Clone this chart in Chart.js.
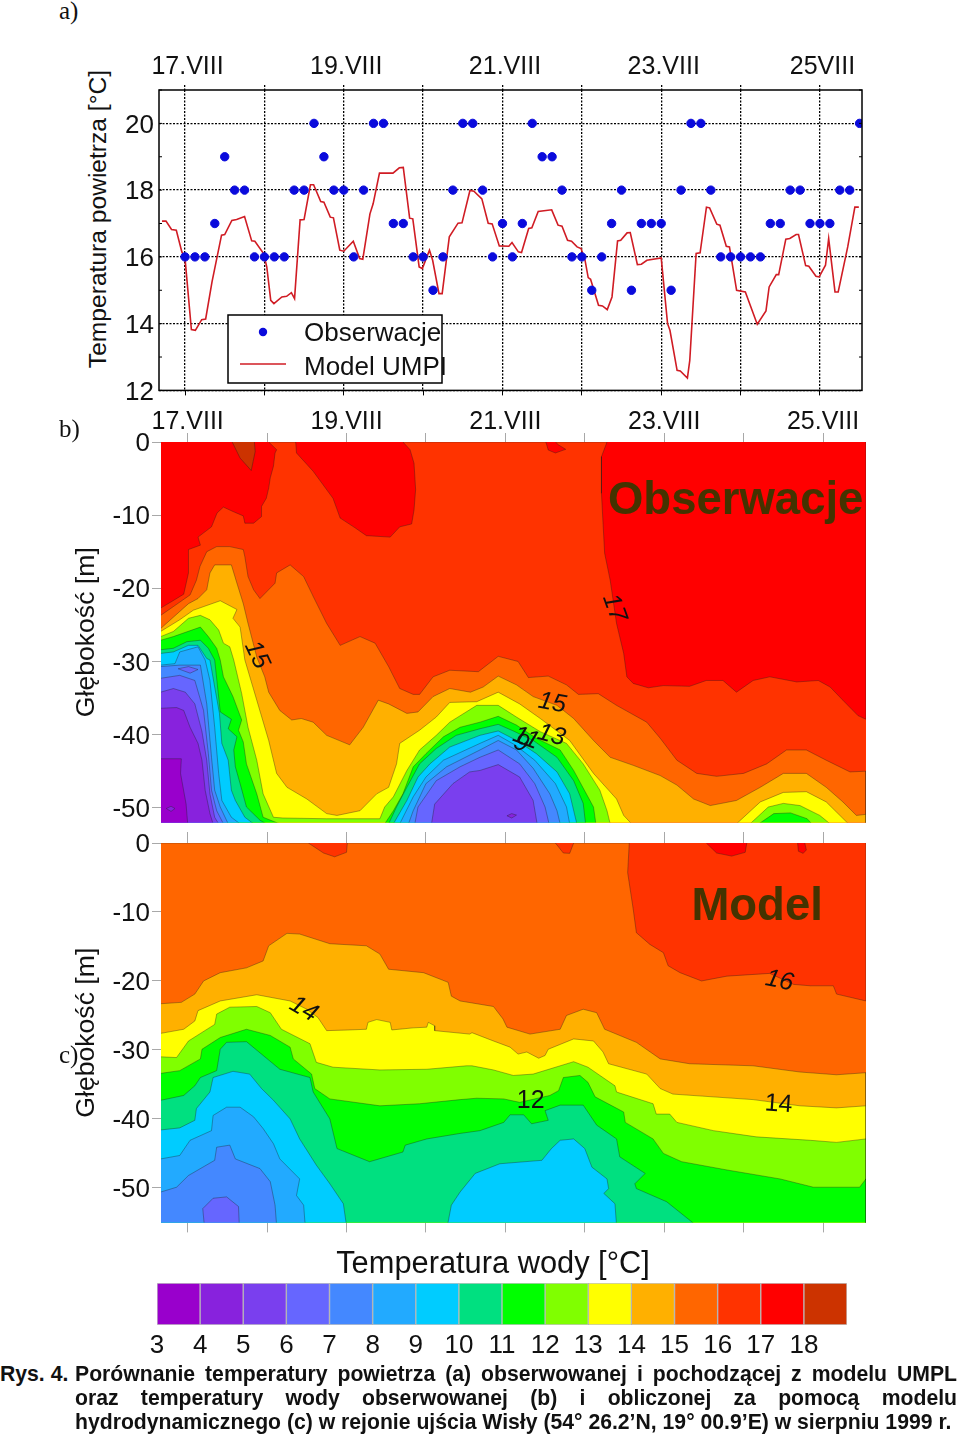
<!DOCTYPE html>
<html>
<head>
<meta charset="utf-8">
<title>Rys. 4</title>
<script src="https://cdn.jsdelivr.net/npm/chart.js@4"></script>
<style>
    html, body { margin: 0; padding: 0; background: #fff; }
    #page { position: relative; width: 960px; height: 1434px; overflow: hidden; font-family: 'Liberation Sans', sans-serif; color: #111; }
    canvas { position: absolute; left: 0; }
    .tag { position: absolute; font: 25px 'Liberation Serif', serif; z-index: 5; }
    .ytitle { position: absolute; left: 98px; top: 219px; font-size: 24.6px; white-space: nowrap; transform: translate(-50%, -50%) rotate(-90deg); }
    .cap { position: absolute; font-weight: bold; font-size: 21.2px; line-height: 24px; white-space: nowrap; }
    .cap.just { white-space: normal; text-align: justify; text-align-last: justify; }
</style>
</head>
<body>
<div id="page">
    <div class="tag" style="left:59px;top:-3px">a)</div>
    <div class="tag" style="left:59px;top:415px">b)</div>
    <div class="tag" style="left:59px;top:1041px">c)</div>
    <div class="ytitle">Temperatura powietrza [°C]</div>
    <canvas id="airChart" width="960" height="366" style="top:45px"></canvas>
    <canvas id="obsChart" width="960" height="435" style="top:405px"></canvas>
    <canvas id="modelChart" width="960" height="415" style="top:825px"></canvas>
    <canvas id="scaleChart" width="934" height="122" style="top:1240px;left:26px"></canvas>
    <div class="cap" style="left:0;top:1362px">Rys. 4.</div>
    <div class="cap just" style="left:75px;top:1362px;width:882px">Porównanie temperatury powietrza (a) obserwowanej i pochodzącej z modelu UMPL</div>
    <div class="cap just" style="left:75px;top:1386px;width:882px">oraz temperatury wody obserwowanej (b) i obliczonej za pomocą modelu</div>
    <div class="cap" style="left:75px;top:1410px">hydrodynamicznego (c) w rejonie ujścia Wisły (54° 26.2’N, 19° 00.9’E) w sierpniu 1999 r.</div>
</div>
<script>
// Tick labels, one per day from 17 to 25 August
var airDayLabels = ['17.VIII', '', '19.VIII', '', '21.VIII', '', '23.VIII', '', '25VIII'];
var waterDayLabels = ['17.VIII', '', '19.VIII', '', '21.VIII', '', '23.VIII', '', '25.VIII'];

// Air temperature observed every 3 hours, starting 17.VIII 00:00
var airObserved = [
    16, 16, 16, 17, 19, 18, 18, 16, 16, 16, 16, 18, 18, 20, 19, 18, 18, 16, 18, 20, 20, 17, 17,
    16, 16, 15, 16, 18, 20, 20, 18, 16, 17, 16, 17, 20, 19, 19, 18, 16, 16, 15, 16, 17, 18, 15,
    17, 17, 17, 15, 18, 20, 20, 18, 16, 16, 16, 16, 16, 17, 17, 18, 18, 17, 17, 17, 18, 18, 20
];
// UMPL model curve: vertices
var modelDays = [
    16.71, 16.76, 16.83, 16.89, 16.96, 17.00, 17.08, 17.13, 17.21, 17.26, 17.34, 17.46, 17.50, 17.59, 17.65, 17.75,
    17.84, 17.88, 17.99, 18.03, 18.08, 18.12, 18.22, 18.28, 18.34, 18.38, 18.45, 18.50, 18.58, 18.62, 18.71, 18.75,
    18.83, 18.87, 18.95, 19.00, 19.12, 19.20, 19.24, 19.33, 19.37, 19.45, 19.62, 19.70, 19.75, 19.83, 19.87, 19.95,
    19.99, 20.08, 20.12, 20.20, 20.24, 20.33, 20.44, 20.49, 20.59, 20.64, 20.74, 20.82, 20.87, 20.96, 21.08, 21.12,
    21.20, 21.24, 21.33, 21.37, 21.45, 21.62, 21.70, 21.75, 21.82, 21.87, 21.94, 21.99, 22.04, 22.08, 22.11, 22.21,
    22.26, 22.32, 22.38, 22.45, 22.49, 22.57, 22.61, 22.70, 22.75, 22.82, 23.00, 23.08, 23.11, 23.20, 23.24, 23.33,
    23.36, 23.44, 23.49, 23.57, 23.61, 23.70, 23.74, 23.82, 23.86, 23.95, 24.06, 24.21, 24.32, 24.36, 24.45, 24.48,
    24.57, 24.62, 24.70, 24.73, 24.82, 24.86, 24.95, 24.99, 25.07, 25.11, 25.19, 25.23, 25.35, 25.44, 25.49
];
var modelTemps = [
    17.07, 17.07, 16.82, 16.80, 16.15, 15.95, 13.82, 13.80, 14.12, 14.14, 15.25, 16.65, 16.67, 17.09, 17.12, 17.21,
    16.48, 16.47, 16.10, 15.70, 14.70, 14.60, 14.80, 14.82, 14.93, 14.75, 17.11, 17.12, 18.16, 18.16, 17.66, 17.64,
    17.19, 17.17, 16.20, 16.17, 16.47, 15.95, 15.93, 17.29, 17.59, 18.51, 18.51, 18.67, 18.68, 17.16, 17.14, 15.70,
    15.65, 16.20, 15.90, 14.90, 14.90, 16.60, 17.01, 17.02, 17.99, 17.97, 17.74, 17.01, 16.99, 16.33, 16.32, 16.43,
    16.15, 16.13, 16.85, 16.87, 17.36, 17.41, 16.95, 16.92, 16.50, 16.47, 16.30, 16.25, 15.90, 15.38, 15.33, 14.55,
    14.53, 14.42, 14.80, 16.48, 16.50, 16.72, 16.73, 15.77, 15.78, 15.90, 15.97, 14.00, 13.80, 12.60, 12.58, 12.37,
    12.90, 16.10, 16.12, 17.49, 17.47, 16.98, 16.95, 16.32, 16.30, 15.00, 14.95, 13.98, 14.38, 15.10, 15.47, 15.47,
    16.53, 16.55, 16.67, 16.67, 15.74, 15.72, 15.42, 15.40, 15.75, 16.55, 14.95, 14.95, 16.30, 17.49, 17.49
];

// Colour scale: one colour per 1 degree band, band 3 is 3-4 C
var scaleLabels = [3, 4, 5, 6, 7, 8, 9, 10, 11, 12, 13, 14, 15, 16, 17, 18];
var bandColours = [
    '#9900CC', '#8822DD', '#7A3FEE', '#6666FF', '#4488FF', '#22AAFF', '#00CCFF', '#00E080',
    '#00FF00', '#80FF00', '#FFFF00', '#FFB000', '#FF6600', '#FF3300', '#FF0000', '#CC3300'
];

// Observed water temperature (panel b): isotherms as [day, depth in m]
var obsWarmLeft = [[16.66,22.7],[16.80,21.8],[16.95,20.8],[17.01,17.9],[17.01,14.7],[17.16,14.1],[17.13,13.0],[17.30,11.6],[17.37,9.7],[17.45,8.9],[17.57,9.5],[17.70,10.1],[17.72,11.1],[17.83,11.1],[17.93,10.2],[17.93,8.8],[17.99,7.7],[18.02,6.3],[18.04,4.9],[18.08,3.3],[18.10,1.5],[18.12,1.05],[18.02,0]];
var obsWarmMiddle = [[18.36,0],[18.37,1.5],[18.58,4.0],[18.83,7.7],[18.92,10.4],[19.09,11.6],[19.25,12.8],[19.55,13.0],[19.67,11.6],[19.82,11.2],[19.85,9.3],[19.87,6.5],[19.85,2.9],[19.80,1.05],[19.71,0]];
var obsWarmRight = [[22.28,0],[22.21,2.0],[22.21,7.0],[22.23,11.1],[22.25,15.2],[22.32,18.9],[22.40,24.8],[22.49,28.9],[22.53,32.1],[22.61,33.0],[22.80,33.6],[22.99,33.3],[23.32,33.4],[23.53,32.6],[23.74,32.6],[23.91,34.2],[24.12,32.6],[24.33,32.1],[24.67,32.8],[24.94,32.6],[25.09,33.5],[25.25,35.3],[25.44,37.4],[25.54,37.9]];
var obsWarmPatch = [[21.51,0],[21.54,1.1],[21.63,1.5],[21.76,1.0],[21.67,0.4],[21.63,0]];
var obsHotPatch = [[17.56,0],[17.66,2.2],[17.80,3.9],[17.85,1.3],[17.84,0]];
var obsIso16 = [[16.66,23.7],[16.82,22.5],[17.03,20.9],[17.11,18.9],[17.155,17.0],[17.24,15.0],[17.365,14.3],[17.53,14.3],[17.70,14.7],[17.72,15.7],[17.76,18.4],[17.83,20.2],[17.91,21.4],[18.10,19.3],[18.12,17.9],[18.29,16.8],[18.46,18.4],[18.58,21.1],[18.75,24.8],[18.92,27.8],[19.17,26.6],[19.36,27.5],[19.53,30.7],[19.67,33.7],[19.84,34.5],[19.92,34.5],[20.09,32.1],[20.30,31.2],[20.66,31.4],[20.91,29.3],[21.16,30.0],[21.29,32.2],[21.54,32.0],[21.77,33.2],[21.92,34.5],[22.17,34.4],[22.40,36.0],[22.78,38.3],[22.95,40.5],[23.16,43.5],[23.41,45.3],[23.66,45.7],[24.00,45.3],[24.29,44.0],[24.54,42.1],[24.79,42.1],[25.04,43.5],[25.34,45.1],[25.54,45.0]];
var obsIso15 = [[16.66,25.5],[17.01,22.1],[17.13,21.4],[17.24,20.2],[17.28,17.9],[17.34,16.8],[17.55,16.8],[17.62,19.3],[17.70,22.1],[17.76,24.8],[17.87,29.4],[17.97,32.1],[18.02,34.2],[18.16,36.7],[18.31,38.0],[18.43,37.8],[18.58,38.3],[18.75,40.1],[19.04,41.4],[19.21,39.0],[19.40,35.3],[19.53,35.8],[19.76,37.1],[19.90,36.9],[20.09,34.8],[20.30,33.7],[20.56,34.2],[20.72,33.5],[20.91,32.0],[21.14,33.2],[21.35,34.8],[21.65,36.0],[21.86,37.8],[22.11,40.8],[22.32,43.1],[22.61,44.2],[22.95,45.6],[23.16,46.9],[23.37,48.8],[23.58,49.7],[23.91,49.0],[24.21,47.2],[24.50,45.3],[24.79,45.3],[25.04,47.2],[25.25,49.2],[25.42,51.05],[25.54,50.9]];
var obsIso14 = [[16.66,25.9],[16.90,24.3],[17.07,23.0],[17.41,21.7],[17.62,22.9],[17.57,24.1],[17.66,25.3],[17.72,29.8],[17.87,35.3],[18.02,40.8],[18.12,45.3],[18.25,47.2],[18.50,48.8],[18.75,50.8],[18.88,51.05],[19.17,50.4],[19.38,48.1],[19.53,47.2],[19.63,44.0],[19.67,41.2],[19.92,39.4],[20.13,37.6],[20.30,35.6],[20.64,35.5],[20.91,34.2],[21.18,35.8],[21.44,37.8],[21.81,40.8],[22.11,45.3],[22.40,48.8],[22.49,51.05],[22.59,52.2]];
var obsIso14Small = [[23.91,52.2],[24.21,49.2],[24.50,47.9],[24.79,47.8],[25.04,49.2],[25.32,52.2]];
var obsIso13 = [[16.66,26.6],[16.82,25.9],[17.01,24.1],[17.16,23.7],[17.28,24.3],[17.39,25.7],[17.45,27.5],[17.53,28.0],[17.58,29.8],[17.68,34.4],[17.76,39.0],[17.87,43.5],[17.95,48.1],[18.08,51.3],[18.20,51.4],[18.75,51.5],[19.42,51.5],[19.48,49.9],[19.59,48.5],[19.76,44.9],[19.92,42.1],[20.13,40.1],[20.30,38.3],[20.64,36.0],[20.91,36.0],[21.14,37.6],[21.44,39.6],[21.77,41.2],[21.98,44.0],[22.19,47.6],[22.28,50.4],[22.32,52.2]];
var obsIso13Small = [[24.08,52.2],[24.31,49.9],[24.50,49.4],[24.71,49.7],[24.96,51.05],[25.09,52.2]];
var obsIso12 = [[16.66,27.1],[16.82,26.6],[17.16,25.3],[17.26,26.6],[17.365,28.2],[17.41,29.8],[17.45,32.1],[17.57,34.8],[17.68,38.0],[17.64,39.4],[17.70,41.0],[17.74,44.0],[17.87,48.1],[17.95,51.3],[18.16,52.2]];
var obsIso12Dome = [[19.48,52.2],[19.59,50.4],[19.71,48.1],[19.84,44.4],[20.00,42.6],[20.22,40.3],[20.43,39.0],[20.68,38.3],[20.91,37.5],[21.14,38.7],[21.39,40.5],[21.69,42.1],[21.86,44.9],[22.02,48.1],[22.11,49.9],[22.14,52.2]];
var obsIso12Small = [[24.19,52.2],[24.38,50.8],[24.59,50.7],[24.80,51.5],[24.86,52.2]];
var obsIso11 = [[16.66,28.4],[16.82,28.2],[16.99,27.3],[17.16,27.1],[17.26,28.2],[17.34,29.8],[17.41,36.9],[17.55,37.9],[17.51,39.2],[17.62,40.3],[17.58,42.1],[17.60,44.4],[17.66,46.7],[17.74,49.9],[17.91,51.7],[17.99,52.2]];
var obsIso11Dome = [[19.53,52.2],[19.63,49.9],[19.76,47.2],[19.92,44.0],[20.13,41.9],[20.38,40.1],[20.68,39.2],[20.91,38.6],[21.10,39.5],[21.35,40.8],[21.65,43.1],[21.86,46.3],[21.98,49.4],[22.01,52.2]];
var obsIso10 = [[16.66,28.9],[16.82,28.7],[17.01,27.8],[17.13,27.8],[17.24,29.6],[17.28,29.8],[17.34,33.5],[17.40,37.1],[17.43,41.2],[17.51,43.5],[17.55,47.6],[17.60,49.0],[17.72,51.3],[17.83,52.2]];
var obsIso10Dome = [[19.59,52.2],[19.76,49.0],[19.90,45.8],[20.05,44.0],[20.30,41.7],[20.68,40.1],[20.91,39.5],[21.14,40.8],[21.39,42.6],[21.65,45.1],[21.81,48.1],[21.90,52.2]];
var obsIso9 = [[16.66,30.5],[16.84,30.3],[16.90,28.7],[17.13,28.0],[17.22,29.8],[17.28,32.6],[17.34,39.0],[17.39,45.3],[17.43,49.0],[17.55,51.3],[17.66,52.2]];
var obsIso9Dome = [[19.67,52.2],[19.84,48.5],[20.00,45.8],[20.22,43.5],[20.68,41.2],[20.91,40.1],[21.12,41.4],[21.37,43.5],[21.63,46.7],[21.77,49.9],[21.81,52.2]];
var obsIso8 = [[16.66,30.7],[16.90,30.5],[17.16,30.5],[17.24,35.8],[17.30,43.1],[17.34,47.6],[17.41,49.9],[17.51,52.2]];
var obsIso8Dome = [[19.78,52.2],[19.84,50.4],[20.00,46.7],[20.26,44.4],[20.68,42.1],[20.91,40.8],[21.14,42.1],[21.35,44.6],[21.56,48.1],[21.65,50.4],[21.69,52.2]];
var obsIso7 = [[16.66,32.3],[16.90,31.9],[17.09,32.6],[17.20,36.7],[17.26,42.6],[17.30,47.6],[17.365,50.4],[17.45,52.2]];
var obsIso7Dome = [[19.86,52.2],[19.90,49.9],[20.13,46.3],[20.43,44.4],[20.68,43.1],[20.91,42.1],[21.18,44.0],[21.37,46.7],[21.50,49.9],[21.55,52.2]];
var obsIso7Isle = [[16.88,31.0],[17.01,30.7],[17.13,31.1],[17.03,31.6],[16.88,31.0]];
var obsIso6 = [[16.66,34.2],[16.82,33.7],[16.97,34.2],[17.09,35.8],[17.18,39.6],[17.24,43.5],[17.28,48.1],[17.34,51.3],[17.39,52.2]];
var obsIso6Dome = [[20.07,52.2],[20.11,49.5],[20.34,46.7],[20.55,45.1],[20.68,44.9],[20.91,44.1],[21.18,45.8],[21.35,49.0],[21.40,52.2]];
var obsIso5 = [[16.66,36.4],[16.86,36.3],[16.95,36.7],[17.03,39.0],[17.13,41.2],[17.18,43.5],[17.22,47.6],[17.28,50.8],[17.32,52.2]];
var obsIso4 = [[16.66,43.3],[16.92,43.3],[16.91,45.3],[16.98,49.5],[17.00,52.2]];
var obsIsle1 = [[16.73,50.1],[16.79,49.8],[16.84,50.1],[16.79,50.5],[16.73,50.1]];
var obsIsle2 = [[21.02,51.1],[21.08,50.8],[21.14,51.0],[21.08,51.4],[21.02,51.1]];

// Modelled water temperature (panel c)
var modWarmPatch1 = [[18.52,0],[18.71,1.45],[18.85,2.0],[19.00,1.35],[19.01,0]];
var modWarmPatch2 = [[21.63,0],[21.73,1.45],[21.81,1.5],[21.86,0]];
var modIso16 = [[22.56,0],[22.54,4.3],[22.61,9.6],[22.65,13.0],[22.82,14.7],[22.99,15.9],[23.05,17.8],[23.20,18.8],[23.47,20.0],[23.79,19.3],[24.33,18.9],[24.63,20.5],[24.84,20.7],[25.13,20.7],[25.17,21.9],[25.54,22.9]];
var modIso17a = [[23.53,0],[23.66,1.45],[23.85,1.9],[24.02,1.35],[24.04,0]];
var modIso17b = [[24.68,0],[24.69,1.2],[24.75,1.5],[24.79,1.0],[24.77,0]];
var modIso15 = [[16.66,23.3],[16.92,23.1],[17.09,21.9],[17.20,20.0],[17.41,18.8],[17.74,18.1],[17.95,17.1],[18.02,14.9],[18.25,13.1],[18.41,13.2],[18.79,14.6],[19.25,14.9],[19.42,16.1],[19.53,18.3],[19.97,18.8],[20.28,20.2],[20.32,22.2],[20.43,22.9],[20.85,23.7],[20.97,25.5],[21.02,26.7],[21.31,27.7],[21.69,27.0],[21.77,25.0],[21.98,24.1],[22.15,24.6],[22.25,27.0],[22.65,28.9],[22.95,31.3],[23.32,32.0],[24.12,32.3],[24.71,33.2],[25.17,33.6],[25.54,33.3]];
var modIso14 = [[16.66,27.6],[16.95,27.0],[17.09,25.8],[17.13,24.3],[17.41,22.9],[17.87,22.0],[18.29,22.9],[18.50,24.1],[18.64,25.3],[18.75,27.2],[19.04,27.1],[19.25,27.0],[19.27,26.0],[19.38,25.6],[19.55,26.0],[19.57,27.1],[19.84,26.8],[20.01,26.7],[20.03,26.0],[20.11,26.5],[20.11,27.2],[20.55,27.7],[20.58,27.5],[20.85,28.7],[21.06,29.6],[21.16,30.6],[21.27,30.3],[21.42,31.2],[21.50,30.8],[21.54,29.9],[21.86,28.4],[22.11,28.7],[22.23,30.3],[22.30,32.0],[22.78,33.5],[22.95,35.6],[23.11,36.4],[24.12,37.2],[24.71,38.1],[25.17,38.4],[25.54,38.1]];
var modIso13 = [[16.66,31.0],[16.86,31.1],[17.01,28.7],[17.34,26.3],[17.365,24.8],[17.53,23.8],[17.87,23.7],[18.04,24.6],[18.18,27.0],[18.54,29.1],[18.62,31.8],[18.83,32.5],[19.42,32.9],[20.01,32.8],[20.51,32.3],[20.58,32.3],[20.85,32.9],[21.10,33.7],[21.35,33.5],[21.86,31.7],[22.04,32.5],[22.38,35.2],[22.40,36.1],[22.86,37.8],[22.90,39.3],[23.07,39.3],[23.16,40.5],[23.62,41.7],[24.16,42.6],[24.84,43.1],[25.17,43.4],[25.54,42.9]];
var modIso12 = [[16.66,33.4],[16.90,33.0],[17.16,31.3],[17.18,29.9],[17.41,28.2],[17.74,27.0],[18.04,27.9],[18.29,29.6],[18.33,31.3],[18.56,33.5],[18.60,35.6],[18.79,37.1],[19.42,38.1],[19.92,37.8],[20.43,37.2],[20.64,37.0],[20.98,37.1],[21.18,37.6],[21.56,36.6],[21.67,35.9],[21.73,34.0],[21.94,33.7],[22.04,34.7],[22.13,36.8],[22.49,39.0],[22.51,40.5],[22.86,42.9],[22.99,45.0],[23.22,46.2],[23.79,47.4],[24.46,48.7],[24.88,49.9],[25.46,49.9],[25.54,48.7]];
var modIso11 = [[16.66,37.3],[16.95,36.6],[17.09,35.2],[17.16,34.0],[17.365,33.0],[17.41,29.9],[17.49,28.9],[17.74,28.8],[17.95,30.8],[18.16,32.8],[18.54,34.0],[18.58,36.1],[18.79,40.0],[18.88,44.3],[19.29,46.2],[19.71,44.8],[19.74,43.8],[20.01,42.9],[20.43,42.1],[20.68,41.7],[20.98,40.5],[21.06,39.4],[21.23,39.4],[21.33,40.7],[21.54,40.2],[21.50,38.8],[21.69,38.0],[21.98,38.0],[22.15,40.9],[22.40,42.9],[22.44,45.5],[22.76,47.9],[22.63,49.4],[22.65,50.1],[23.03,52.0],[23.41,55.5]];
var modIso10 = [[16.66,41.6],[16.90,41.3],[17.09,40.2],[17.11,38.5],[17.28,36.1],[17.32,34.0],[17.57,33.1],[17.78,33.5],[17.93,35.6],[18.08,37.3],[18.29,40.0],[18.41,42.9],[18.62,46.7],[18.79,49.4],[18.96,52.3],[19.00,55.5]];
var modIso10Dome = [[20.27,55.5],[20.32,52.5],[20.43,50.6],[20.62,47.9],[20.93,46.5],[21.46,46.0],[21.58,44.3],[21.69,43.1],[21.86,42.9],[22.00,44.3],[22.09,47.0],[22.28,48.7],[22.30,50.1],[22.24,50.8],[22.38,52.3],[22.40,55.5]];
var modIso9 = [[16.66,45.8],[16.90,45.3],[17.03,43.1],[17.30,41.7],[17.32,39.5],[17.49,38.3],[17.66,38.3],[17.83,39.7],[17.95,41.4],[18.08,43.6],[18.16,45.8],[18.41,48.7],[18.37,51.1],[18.46,52.5],[18.48,55.5]];
var modIso8 = [[16.66,50.6],[16.86,49.9],[17.01,48.2],[17.34,46.0],[17.365,44.1],[17.53,43.8],[17.60,45.8],[17.91,47.2],[18.04,49.1],[18.10,52.5],[18.12,55.5]];
var modIso7 = [[17.21,55.5],[17.19,53.0],[17.32,51.5],[17.49,51.3],[17.64,52.7],[17.65,55.5]];

// Contour labels: text, day, depth, angle in degrees, upright flag
var obsContourLabels = [
    ['15', 17.87, 29.1, 65], ['17', 22.37, 22.7, 70], ['15', 21.59, 35.7, 10],
    ['13', 21.58, 40.1, 15], ['11', 21.26, 40.5, 20], ['9', 21.20, 41.2, 20]
];
var modelContourLabels = [
    ['14', 18.46, 24.1, 30], ['16', 24.45, 20.0, 12], ['12', 21.32, 37.4, 0, true], ['14', 24.44, 37.9, 4, true]
];

Chart.defaults.font.family = "'Liberation Sans', sans-serif";
Chart.defaults.font.size = 26;
Chart.defaults.color = '#111';
Chart.defaults.animation = false;
Chart.defaults.responsive = false;
Chart.defaults.plugins.legend.display = false;
Chart.defaults.plugins.tooltip.enabled = false;

function fixedHeight(px) {
    return function (scale) { scale.height = px; };
}
function fixedWidth(px) {
    return function (scale) { scale.width = px; };
}
// Day ticks with labels from a list; only whole days
function dayTicks(labels, padding, labelOffset) {
    return {
        stepSize: 1,
        includeBounds: false,
        autoSkip: false,
        maxRotation: 0,
        font: { size: 25 },
        padding: padding,
        labelOffset: labelOffset,
        callback: function (value) {
            return labels[value - 17] || '';
        }
    };
}

// Close a polyline down to below the plot, or up above it
function closed(line, side, xMin, xMax) {
    var limit = side === 'below' ? -70 : 10;
    var first = line[0];
    var last = line[line.length - 1];
    var startX = first[0] <= xMin ? xMin - 1 : first[0];
    var endX = last[0] >= xMax ? xMax + 1 : last[0];
    var points = line.map(function (p) { return { x: p[0], y: -p[1] }; });
    points.push({ x: endX, y: limit });
    points.push({ x: startX, y: limit });
    return points;
}

// One coloured area per entry, painted in list order
function contourDatasets(layers, xMin, xMax) {
    return layers.map(function (layer, i) {
        return {
            data: layer[2] ? closed(layer[1], layer[2], xMin, xMax)
                           : layer[1].map(function (p) { return { x: p[0], y: -p[1] }; }),
            order: layers.length - i,
            showLine: true,
            fill: 'shape',
            tension: 0,
            pointRadius: 0,
            backgroundColor: bandColours[layer[0] - 3],
            borderColor: 'rgba(30,30,30,0.5)',
            borderWidth: 0.7
        };
    });
}

// Rotated contour labels and the panel name, placed through the scales
function panelText(labels, name, nameDay, nameDepth) {
    return {
        id: 'panelText',
        afterDatasetsDraw: function (chart) {
            var ctx = chart.ctx;
            var x = chart.scales.x;
            var y = chart.scales.y;
            ctx.save();
            ctx.textAlign = 'center';
            ctx.textBaseline = 'middle';
            ctx.fillStyle = '#111';
            labels.forEach(function (l) {
                ctx.save();
                ctx.font = (l[4] ? '' : 'italic ') + "25px 'Liberation Sans'";
                ctx.translate(x.getPixelForValue(l[1]), y.getPixelForValue(-l[2]));
                ctx.rotate(l[3] * Math.PI / 180);
                ctx.fillText(l[0], 0, 0);
                ctx.restore();
            });
            ctx.font = "bold 45.5px 'Liberation Sans'";
            ctx.fillStyle = '#443300';
            ctx.fillText(name, x.getPixelForValue(nameDay), y.getPixelForValue(-nameDepth));
            ctx.restore();
        }
    };
}

function waterChart(id, layers, yMin, top, bottomTickHeight, dayLabels, contourLabels, name, nameDay, nameDepth, padBottom) {
    var xMin = 16.664, xMax = 25.541;
    var scales = {
        x: {
            type: 'linear', position: 'top', min: xMin, max: xMax,
            afterFit: fixedHeight(top),
            ticks: dayLabels ? dayTicks(dayLabels, -4, 0) : { stepSize: 1, includeBounds: false, display: false },
            grid: { drawOnChartArea: false, color: '#a8a8a8', tickLength: dayLabels ? 9 : 11 },
            border: { display: false }
        },
        y: {
            min: yMin, max: 0,
            afterFit: fixedWidth(90),
            ticks: { stepSize: 10, includeBounds: false, padding: 2, labelOffset: 2 },
            grid: { drawOnChartArea: false, color: '#a8a8a8', tickLength: 9 },
            border: { display: false },
            title: { display: true, text: 'Głębokość [m]', font: { size: 26.6 }, padding: 0 }
        }
    };
    if (bottomTickHeight) {
        scales.xb = {
            type: 'linear', position: 'bottom', min: xMin, max: xMax,
            afterFit: fixedHeight(bottomTickHeight),
            ticks: { stepSize: 1, includeBounds: false, display: false },
            grid: { drawOnChartArea: false, color: '#a8a8a8', tickLength: 10 },
            border: { display: false }
        };
    }
    return new Chart(document.getElementById(id), {
        type: 'scatter',
        data: { datasets: contourDatasets(layers, xMin, xMax) },
        options: {
            layout: { padding: { left: 71, right: 94, top: 0, bottom: padBottom } },
            scales: scales
        },
        plugins: [panelText(contourLabels, name, nameDay, nameDepth)]
    });
}

// Panel a
new Chart(document.getElementById('airChart'), {
    type: 'scatter',
    data: {
        datasets: [
            {
                label: 'Obserwacje',
                data: airObserved.map(function (t, i) { return { x: 17 + i / 8, y: t }; }),
                backgroundColor: '#0A0ADC',
                borderColor: '#0A0ADC',
                pointRadius: 4.2
            },
            {
                label: 'Model UMPI',
                data: modelDays.map(function (d, i) { return { x: d, y: modelTemps[i] }; }),
                showLine: true,
                tension: 0,
                pointRadius: 0,
                borderColor: '#D01C24',
                borderWidth: 1.6
            }
        ]
    },
    options: {
        layout: { padding: { left: 119, right: 98, top: 0, bottom: 0 } },
        scales: {
            x: {
                type: 'linear', position: 'top', min: 16.672, max: 25.53,
                afterFit: fixedHeight(45),
                ticks: dayTicks(airDayLabels, 3, 2.5),
                grid: { color: '#000', lineWidth: 1.3, tickLength: 5, tickBorderDash: [2, 1.5] },
                border: { display: false, dash: [2, 1.5] }
            },
            xb: {
                type: 'linear', position: 'bottom', min: 16.672, max: 25.53,
                afterFit: fixedHeight(15),
                ticks: { stepSize: 1, includeBounds: false, display: false },
                grid: { drawOnChartArea: false, color: '#000', tickLength: 5 },
                border: { display: false }
            },
            y: {
                min: 12, max: 21,
                afterFit: fixedWidth(40),
                ticks: {
                    stepSize: 1,
                    autoSkip: false,
                    padding: 5,
                    labelOffset: 2,
                    callback: function (v) { return v % 2 === 0 ? v : ''; }
                },
                grid: {
                    drawTicks: false,
                    color: function (c) { return c.tick && c.tick.value % 2 === 0 ? '#000' : 'rgba(0,0,0,0)'; },
                    lineWidth: 1.3
                },
                border: { display: false, dash: [2, 1.5] }
            }
        }
    },
    plugins: [{
        // Frame, small inside ticks and the legend box on top of the marks
        id: 'airFrame',
        afterDatasetsDraw: function (chart) {
            var ctx = chart.ctx;
            var a = chart.chartArea;
            var y = chart.scales.y;
            ctx.save();
            ctx.strokeStyle = '#000';
            ctx.lineWidth = 1.5;
            ctx.strokeRect(a.left, a.top, a.right - a.left, a.bottom - a.top);
            ctx.lineWidth = 1;
            y.ticks.forEach(function (t) {
                var py = y.getPixelForValue(t.value);
                ctx.beginPath();
                ctx.moveTo(a.left, py); ctx.lineTo(a.left + 3, py);
                ctx.moveTo(a.right, py); ctx.lineTo(a.right - 3, py);
                ctx.stroke();
            });
            var sets = chart.data.datasets;
            var left = a.left + 69, top = a.top + 225;
            ctx.fillStyle = '#fff';
            ctx.fillRect(left, top, 214, 68);
            ctx.lineWidth = 1.5;
            ctx.strokeRect(left, top, 214, 68);
            ctx.fillStyle = sets[0].backgroundColor;
            ctx.beginPath();
            ctx.arc(left + 35, top + 17, 4.2, 0, Math.PI * 2);
            ctx.fill();
            ctx.strokeStyle = sets[1].borderColor;
            ctx.lineWidth = 1.6;
            ctx.beginPath();
            ctx.moveTo(left + 12, top + 49);
            ctx.lineTo(left + 58, top + 49);
            ctx.stroke();
            ctx.fillStyle = '#111';
            ctx.font = "26px 'Liberation Sans'";
            ctx.textBaseline = 'middle';
            ctx.fillText(sets[0].label, left + 76, top + 19);
            ctx.fillText(sets[1].label, left + 76, top + 53);
            ctx.restore();
        }
    }]
});

// Panel b
waterChart('obsChart', [
    [16, [[16.6, 0], [25.6, 0]], 'below'],
    [17, obsWarmLeft, 'above'], [17, obsWarmMiddle, 'above'], [17, obsWarmRight, 'above'], [17, obsWarmPatch, 'above'],
    [18, obsHotPatch, 'above'],
    [15, obsIso16, 'below'], [14, obsIso15, 'below'],
    [13, obsIso14, 'below'], [13, obsIso14Small, 'below'],
    [12, obsIso13, 'below'], [12, obsIso13Small, 'below'],
    [11, obsIso12, 'below'], [11, obsIso12Dome, 'below'], [11, obsIso12Small, 'below'],
    [10, obsIso11, 'below'], [10, obsIso11Dome, 'below'],
    [9, obsIso10, 'below'], [9, obsIso10Dome, 'below'],
    [8, obsIso9, 'below'], [8, obsIso9Dome, 'below'],
    [7, obsIso8, 'below'], [7, obsIso8Dome, 'below'],
    [6, obsIso7, 'below'], [6, obsIso7Dome, 'below'], [6, obsIso7Isle, null],
    [5, obsIso6, 'below'], [5, obsIso6Dome, 'below'],
    [4, obsIso5, 'below'], [3, obsIso4, 'below'],
    [4, obsIsle1, null], [4, obsIsle2, null]
], -52, 37, 0, waterDayLabels, obsContourLabels, 'Obserwacje', 23.90, 8.1, 8);

// Panel c
waterChart('modelChart', [
    [15, [[16.6, 0], [25.6, 0]], 'below'],
    [16, modWarmPatch1, 'above'], [16, modWarmPatch2, 'above'], [16, modIso16, 'above'],
    [17, modIso17a, 'above'], [17, modIso17b, 'above'],
    [14, modIso15, 'below'], [13, modIso14, 'below'], [12, modIso13, 'below'],
    [11, modIso12, 'below'], [10, modIso11, 'below'],
    [9, modIso10, 'below'], [9, modIso10Dome, 'below'],
    [8, modIso9, 'below'], [7, modIso8, 'below'], [6, modIso7, 'below']
], -55, 18, 17, null, modelContourLabels, 'Model', 24.17, 9.3, 0);

// Colour scale: side axes only reserve the room, so the title stays centred on the canvas
new Chart(document.getElementById('scaleChart'), {
    type: 'bar',
    data: {
        labels: [''],
        datasets: scaleLabels.map(function (t, i) {
            return {
                data: [[t, t + 1]],
                backgroundColor: bandColours[i],
                borderColor: 'rgba(60,60,60,0.3)',
                borderWidth: 1,
                borderSkipped: false,
                barPercentage: 1,
                categoryPercentage: 1
            };
        })
    },
    options: {
        indexAxis: 'y',
        layout: { padding: { top: 4 } },
        datasets: { bar: { grouped: false } },
        plugins: {
            title: {
                display: true,
                text: 'Temperatura wody [°C]',
                font: { size: 30.8, weight: 'normal' },
                color: '#111',
                padding: { top: 2, bottom: 0 }
            }
        },
        scales: {
            x: {
                type: 'linear', min: 3, max: 19,
                afterFit: fixedHeight(37),
                ticks: {
                    stepSize: 1,
                    autoSkip: false,
                    maxRotation: 0,
                    padding: -3,
                    callback: function (v) { return scaleLabels.indexOf(v) >= 0 ? v : ''; }
                },
                grid: { display: false },
                border: { display: false }
            },
            y: {
                afterFit: fixedWidth(131),
                ticks: { display: false },
                grid: { display: false },
                border: { display: false }
            },
            yr: {
                type: 'linear', position: 'right',
                afterFit: fixedWidth(113),
                ticks: { display: false },
                grid: { display: false },
                border: { display: false }
            }
        }
    }
});
</script>
</body>
</html>
